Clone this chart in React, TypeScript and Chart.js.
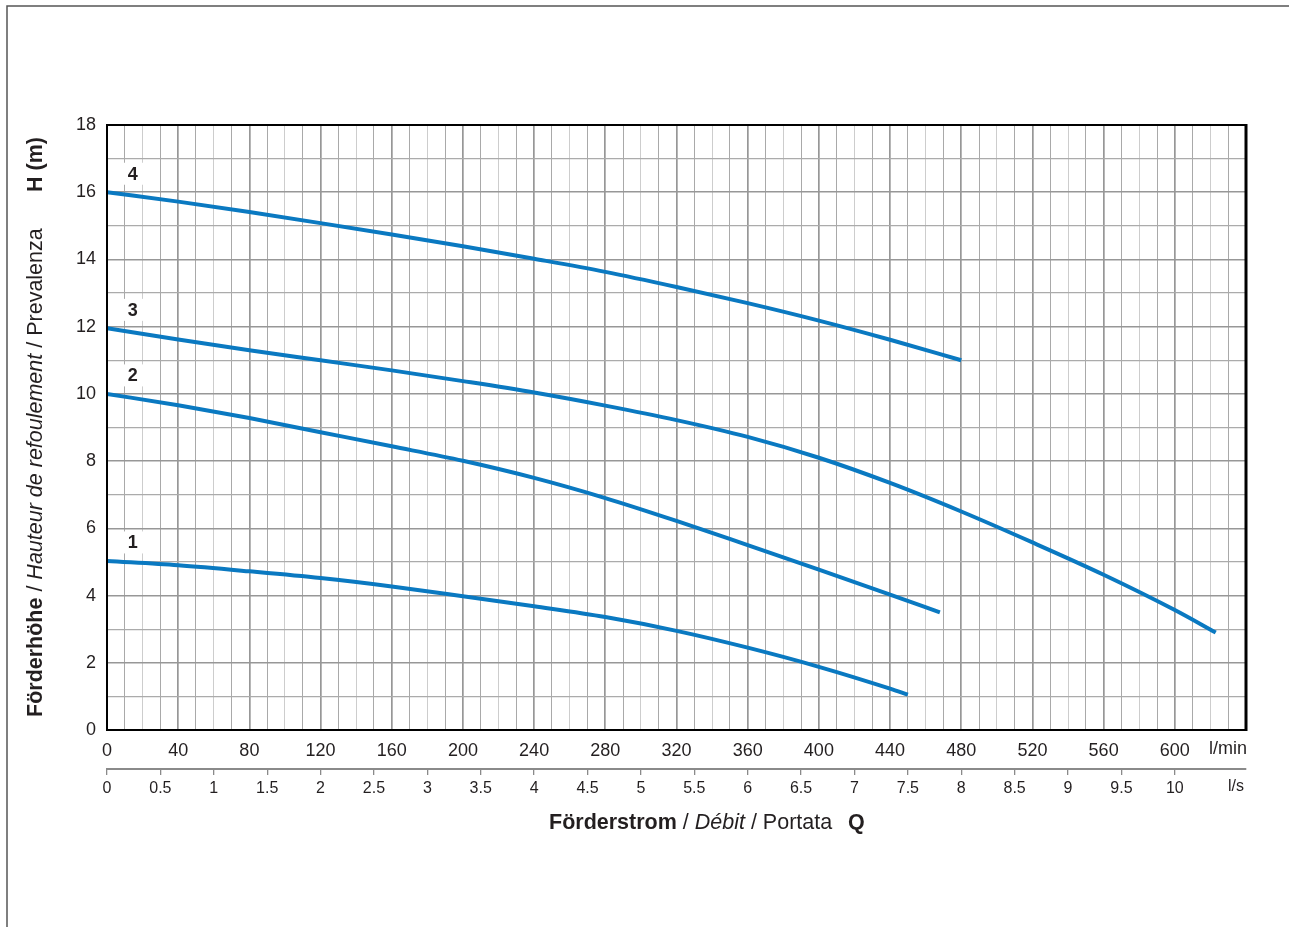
import React, { useEffect, useRef } from 'react';
import { Chart, registerables } from 'chart.js';

Chart.register(...registerables);

// ---- Data (flow in l/min, head in m) ----
const flow1 = [0, 40, 80, 120, 160, 200, 240, 280, 320, 360, 400, 440, 450];
const head1 = [5.03, 4.9, 4.72, 4.52, 4.27, 3.98, 3.68, 3.36, 2.95, 2.45, 1.88, 1.23, 1.05];

const flow2 = [0, 40, 80, 120, 160, 200, 240, 280, 320, 360, 400, 440, 468];
const head2 = [10.0, 9.66, 9.28, 8.86, 8.44, 8.01, 7.5, 6.9, 6.22, 5.5, 4.77, 4.03, 3.5];

const flow3 = [0, 40, 80, 120, 160, 200, 240, 280, 320, 360, 400, 440, 480, 520, 560, 600, 623];
const head3 = [11.95, 11.62, 11.3, 11.0, 10.7, 10.38, 10.04, 9.65, 9.22, 8.72, 8.1, 7.35, 6.5, 5.58, 4.62, 3.57, 2.9];

const flow4 = [0, 40, 80, 120, 160, 200, 240, 280, 320, 360, 400, 440, 480];
const head4 = [16.0, 15.72, 15.41, 15.08, 14.74, 14.39, 14.02, 13.63, 13.18, 12.7, 12.18, 11.61, 11.0];

const curveLabels = ['1', '2', '3', '4'];
const curveFlows = [flow1, flow2, flow3, flow4];
const curveHeads = [head1, head2, head3, head4];

const xMaxLmin = 640;
const xLabelStep = 40;
const xLastLabel = 600;
const ySMax = 18;
const lsLastLabel = 10;
const xUnit = 'l/min';
const x2Unit = 'l/s';

const FONT = '"Liberation Sans", Arial, Helvetica, sans-serif';
const BLUE = '#0a79c1';
const TEXT = '#231f20';

type Seg = { t: string; f: string };

const yTitleMain: Seg[] = [
  { t: 'Förderhöhe', f: 'bold' },
  { t: ' / ', f: 'normal' },
  { t: 'Hauteur de refoulement', f: 'italic' },
  { t: ' / Prevalenza', f: 'normal' },
];
const yTitleSym: Seg[] = [{ t: 'H (m)', f: 'bold' }];
const xTitleMain: Seg[] = [
  { t: 'Förderstrom', f: 'bold' },
  { t: ' / ', f: 'normal' },
  { t: 'Débit', f: 'italic' },
  { t: ' / Portata', f: 'normal' },
];
const xTitleSym: Seg[] = [{ t: 'Q', f: 'bold' }];

const TITLE_SIZE = 21.5;

function fontOf(f: string, size: number) {
  if (f === 'bold') return `bold ${size}px ${FONT}`;
  if (f === 'italic') return `italic ${size}px ${FONT}`;
  return `${size}px ${FONT}`;
}

function segsWidth(ctx: CanvasRenderingContext2D, segs: Seg[], size: number) {
  let w = 0;
  for (const s of segs) {
    ctx.font = fontOf(s.f, size);
    w += ctx.measureText(s.t).width;
  }
  return w;
}

function drawSegs(ctx: CanvasRenderingContext2D, segs: Seg[], size: number, x0: number) {
  let x = x0;
  for (const s of segs) {
    ctx.font = fontOf(s.f, size);
    ctx.fillText(s.t, x, 0);
    x += ctx.measureText(s.t).width;
  }
}

const decorPlugin = {
  id: 'decor',
  beforeDatasetsDraw(chart: any) {
    const ctx: CanvasRenderingContext2D = chart.ctx;
    const xs = chart.scales.x;
    const ys = chart.scales.y;
    ctx.save();
    curveLabels.forEach((lab, i) => {
      const cx = xs.getPixelForValue(14.5);
      const cy = ys.getPixelForValue(curveHeads[i][0] + 0.55);
      ctx.fillStyle = '#ffffff';
      ctx.fillRect(cx - 11, cy - 11, 22, 22);
      ctx.fillStyle = TEXT;
      ctx.font = `bold 18px ${FONT}`;
      ctx.textAlign = 'center';
      ctx.textBaseline = 'middle';
      ctx.fillText(lab, cx, cy + 1);
    });
    ctx.restore();
  },
  afterDraw(chart: any) {
    const ctx: CanvasRenderingContext2D = chart.ctx;
    const a = chart.chartArea;
    ctx.save();
    // chart area border
    ctx.strokeStyle = '#000';
    ctx.lineWidth = 2;
    ctx.strokeRect(a.left, a.top, a.right - a.left, a.bottom - a.top);
    ctx.lineWidth = 3;
    ctx.beginPath();
    ctx.moveTo(a.right, a.top - 1);
    ctx.lineTo(a.right, a.bottom + 1);
    ctx.stroke();

    // unit labels
    ctx.fillStyle = TEXT;
    ctx.textAlign = 'right';
    ctx.textBaseline = 'top';
    ctx.font = `18px ${FONT}`;
    ctx.fillText(xUnit, a.right + 1, a.bottom + 10);
    const x2 = chart.scales.x2;
    ctx.font = `16px ${FONT}`;
    ctx.fillText(x2Unit, a.right - 2, x2.top + 10);

    // titles
    ctx.textAlign = 'left';
    ctx.textBaseline = 'alphabetic';
    ctx.save();
    ctx.translate(0, 829);
    drawSegs(ctx, xTitleMain, TITLE_SIZE, 549);
    drawSegs(ctx, xTitleSym, TITLE_SIZE, 848);
    ctx.restore();

    ctx.save();
    ctx.translate(42, 0);
    ctx.rotate(-Math.PI / 2);
    // in rotated space, x = -pageY
    drawSegs(ctx, yTitleMain, TITLE_SIZE, -717);
    const wSym = segsWidth(ctx, yTitleSym, TITLE_SIZE);
    drawSegs(ctx, yTitleSym, TITLE_SIZE, -(137 + wSym));
    ctx.restore();

    // outer frame (top and left)
    ctx.strokeStyle = '#555';
    ctx.lineWidth = 1.5;
    ctx.beginPath();
    ctx.moveTo(7, 927);
    ctx.lineTo(7, 6);
    ctx.lineTo(1289, 6);
    ctx.stroke();
    ctx.restore();
  },
};

export default function App() {
  const ref = useRef<HTMLCanvasElement | null>(null);

  useEffect(() => {
    if (!ref.current) return;
    const datasets = curveLabels.map((lab, i) => ({
      label: lab,
      data: curveFlows[i].map((x, j) => ({ x, y: curveHeads[i][j] })),
      borderColor: BLUE,
      backgroundColor: BLUE,
      borderWidth: 4,
      pointRadius: 0,
      cubicInterpolationMode: 'monotone' as const,
      xAxisID: 'x',
      yAxisID: 'y',
      fill: false,
    }));

    const chart = new Chart(ref.current, {
      type: 'line',
      data: { datasets },
      plugins: [decorPlugin],
      options: {
        animation: false,
        responsive: false,
        devicePixelRatio: 1,
        parsing: false,
        layout: { padding: { top: 125, right: 43, left: 0, bottom: 128 } },
        plugins: { legend: { display: false }, tooltip: { enabled: false } },
        scales: {
          x: {
            type: 'linear',
            position: 'bottom',
            weight: 0,
            min: 0,
            max: xMaxLmin,
            afterFit: (s: any) => { s.height = 39; },
            ticks: {
              stepSize: 10,
              autoSkip: false,
              maxRotation: 0,
              padding: 10,
              color: TEXT,
              font: { family: FONT, size: 18 },
              callback: (v: any) => {
                const n = Math.round(Number(v));
                return n % xLabelStep === 0 && n <= xLastLabel ? String(n) : '';
              },
            },
            grid: {
              drawTicks: false,
              color: (c: any) => {
                const v = Math.round(c.tick.value);
                if (v % 40 === 0) return '#979797';
                if (v % 20 === 0) return '#cdcdcd';
                return '#a9a9a9';
              },
              lineWidth: (c: any) => {
                const v = Math.round(c.tick.value);
                return v % 40 === 0 ? 1.7 : 1;
              },
            },
            border: { display: false },
          },
          x2: {
            type: 'linear',
            position: 'bottom',
            weight: 1,
            min: 0,
            max: xMaxLmin / 60,
            afterFit: (s: any) => { s.height = 30; },
            ticks: {
              stepSize: 0.5,
              autoSkip: false,
              maxRotation: 0,
              padding: 4,
              color: TEXT,
              font: { family: FONT, size: 16 },
              callback: (v: any) => {
                const n = Number(v);
                const r = Math.round(n * 2) / 2;
                if (Math.abs(n - r) > 1e-6 || r > lsLastLabel) return null;
                return String(r);
              },
            },
            grid: {
              drawOnChartArea: false,
              drawTicks: true,
              tickLength: 6,
              color: '#8a8a8a',
              lineWidth: 1.3,
            },
            border: { display: true, color: '#8a8a8a', width: 2 },
          },
          y: {
            type: 'linear',
            position: 'left',
            min: 0,
            max: ySMax,
            afterFit: (s: any) => { s.width = 107; },
            ticks: {
              stepSize: 1,
              autoSkip: false,
              padding: 11,
              color: TEXT,
              font: { family: FONT, size: 18 },
              callback: (v: any) => {
                const n = Math.round(Number(v));
                return n % 2 === 0 ? String(n) : '';
              },
            },
            grid: {
              drawTicks: false,
              color: (c: any) => (Math.round(c.tick.value) % 2 === 0 ? '#979797' : '#ababab'),
              lineWidth: (c: any) => (Math.round(c.tick.value) % 2 === 0 ? 1.6 : 1.2),
            },
            border: { display: false },
          },
        },
      } as any,
    });
    return () => chart.destroy();
  }, []);

  return (
    <div style={{ position: 'absolute', left: 0, top: 0, width: 1289, height: 927, background: '#fff' }}>
      <canvas ref={ref} width={1289} height={927} style={{ display: 'block', width: 1289, height: 927 }} />
    </div>
  );
}
